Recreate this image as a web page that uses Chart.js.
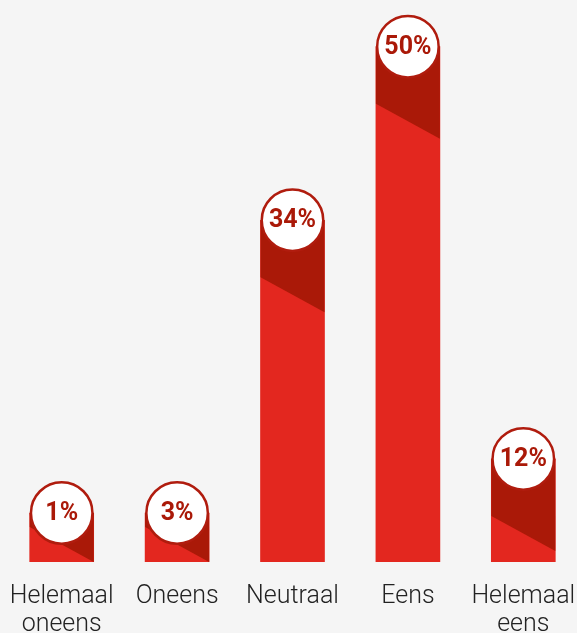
<!DOCTYPE html>
<html>
<head>
<meta charset="utf-8">
<script src="https://cdn.jsdelivr.net/npm/chart.js@4"></script>
<style>
    html, body { margin: 0; padding: 0; background: #f5f5f5; overflow: hidden; }
    #wrap { width: 581px; height: 633px; }
</style>
</head>
<body>
<div id="wrap"><canvas id="surveyChart"></canvas></div>
<script>
// Survey answers (share of respondents, %)
const categories = [['Helemaal', 'oneens'], 'Oneens', 'Neutraal', 'Eens', ['Helemaal', 'eens']];
const percentages = [1, 3, 34, 50, 12];

// Value range (bars start below the visible baseline)
const Y_MIN = 2.5;
const Y_MAX = 54.3;

const BAR_RED = '#e3271f';
const DARK_RED = '#aa1908';
const RING_RED = '#b01c0e';

// Draw the dark top band and the white value badge on each bar
const badgePlugin = {
    id: 'badges',
    afterDatasetsDraw(chart) {
        const ctx = chart.ctx;
        const area = chart.chartArea;
        const meta = chart.getDatasetMeta(0);

        meta.data.forEach((bar, i) => {
            const half = bar.width / 2;
            const left = bar.x - half;
            const right = bar.x + half;
            const top = bar.y;
            const bottom = Math.min(bar.base, area.bottom);

            // dark band with slanted lower edge
            const diagRight = Math.min(top + 92, bottom);
            const diagLeft = diagRight - 35;
            ctx.save();
            ctx.fillStyle = DARK_RED;
            ctx.beginPath();
            ctx.moveTo(left, top);
            ctx.lineTo(right, top);
            ctx.lineTo(right, diagRight);
            ctx.lineTo(left, diagLeft);
            ctx.closePath();
            ctx.fill();

            // badge
            ctx.beginPath();
            ctx.arc(bar.x, top, half - 1.25, 0, Math.PI * 2);
            ctx.fillStyle = '#ffffff';
            ctx.fill();
            ctx.lineWidth = 2.5;
            ctx.strokeStyle = RING_RED;
            ctx.stroke();

            ctx.fillStyle = DARK_RED;
            ctx.font = 'bold 25px Roboto, sans-serif';
            ctx.textAlign = 'center';
            ctx.textBaseline = 'middle';
            ctx.fillText(percentages[i] + '%', bar.x, top + 1);
            ctx.restore();
        });
    }
};

const ctx = document.getElementById('surveyChart').getContext('2d');
new Chart(ctx, {
    type: 'bar',
    data: {
        labels: categories,
        datasets: [{
            data: percentages,
            backgroundColor: BAR_RED,
            borderWidth: 0,
            barThickness: 64,
            minBarLength: 49,
            clip: 0
        }]
    },
    options: {
        responsive: true,
        maintainAspectRatio: false,
        animation: false,
        layout: {
            padding: { left: 4, right: 0, top: 0, bottom: 0 }
        },
        plugins: {
            legend: { display: false },
            tooltip: { enabled: false }
        },
        scales: {
            x: {
                grid: { display: false, drawTicks: false },
                border: { display: false },
                ticks: {
                    color: '#222222',
                    padding: 21,
                    maxRotation: 0,
                    autoSkip: false,
                    font: { family: 'Roboto, sans-serif', size: 25, weight: '300', lineHeight: 1.12 }
                },
                afterFit(scale) {
                    scale.height = 71;
                    // labels may hang over the edges, keep full category width
                    scale.paddingLeft = 0;
                    scale.paddingRight = 0;
                }
            },
            y: {
                display: false,
                min: Y_MIN,
                max: Y_MAX
            }
        }
    },
    plugins: [badgePlugin]
});
</script>
</body>
</html>
